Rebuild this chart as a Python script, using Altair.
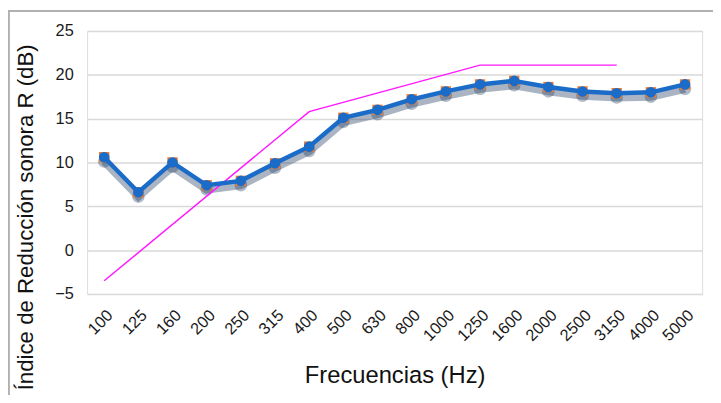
import altair as alt
import pandas as pd

freqs = ["100", "125", "160", "200", "250", "315", "400", "500", "630", "800",
         "1000", "1250", "1600", "2000", "2500", "3150", "4000", "5000"]
r_values = [10.6, 6.6, 10.0, 7.4, 7.9, 9.9, 11.8, 15.1, 16.0, 17.2,
            18.1, 18.9, 19.3, 18.6, 18.1, 17.9, 18.0, 18.9]
ref_freqs = ["100", "400", "1250", "3150"]
ref_values = [-3.5, 15.8, 21.1, 21.1]

df = pd.DataFrame({"f": freqs, "R": r_values})
dref = pd.DataFrame({"f": ref_freqs, "R": ref_values})

W, H = 622, 266
FONT = "Liberation Sans"

x = alt.X("f:O", sort=freqs, scale=alt.Scale(type="point", padding=0.5, domain=freqs),
          axis=alt.Axis(title="Frecuencias (Hz)", labelAngle=-45, labelFontSize=16.5,
                        labelColor="#1a1a1a", labelFont=FONT,
                        titleFont=FONT, titleFontSize=24, titleFontWeight="normal",
                        titleColor="#111111", titleY=71, titleBaseline="top",
                        ticks=False, domain=False, labelPadding=13, grid=False))
y = alt.Y("R:Q", scale=alt.Scale(domain=[-5, 25], nice=False, zero=False),
          axis=alt.Axis(title="Índice de Reducción sonora R (dB)", values=[-5, 0, 5, 10, 15, 20, 25],
                        labelFontSize=16.5, labelColor="#1a1a1a", labelFont=FONT,
                        titleFont=FONT, titleFontSize=22.5, titleFontWeight="normal",
                        titleColor="#111111", titleX=-50, titleY=188,
                        ticks=False, domain=False, labelPadding=14,
                        gridColor="#d9d9d9", gridWidth=1.5))

frame_left = alt.Chart(df).mark_rule(color="#b0b0b0", strokeWidth=1.2).encode(
    x=alt.value(-79.5), y=alt.value(-20.5), y2=alt.value(400))
frame_top = alt.Chart(df).mark_rule(color="#b0b0b0", strokeWidth=1.2).encode(
    x=alt.value(-79.5), x2=alt.value(700), y=alt.value(-20.5))

base = alt.Chart(df).transform_calculate(Rs="datum.R - 0.5")
shadow = base.mark_line(color="#1f3a5e", opacity=0.38, strokeWidth=8).encode(x=x, y=alt.Y("Rs:Q"))
shadow_pts = base.mark_circle(color="#1f3a5e", opacity=0.35, size=160).encode(x=x, y=alt.Y("Rs:Q"))
squares = base.mark_square(color="#ed7d31", opacity=1, size=110).encode(x=x, y=y)
line = base.mark_line(color="#1a6cc8", strokeWidth=4.5).encode(x=x, y=y)
circles = base.mark_circle(color="#1a6cc8", opacity=1, size=115).encode(x=x, y=y)
refline = alt.Chart(dref).mark_line(color="#ff19ff", strokeWidth=1.5).encode(x=x, y=y)

chart = alt.layer(shadow, shadow_pts, refline, squares, line, circles, frame_left, frame_top).properties(
    width=W, height=H, autosize=alt.AutoSizeParams(type="none"),
    padding={"left": 80, "top": 21, "right": 11, "bottom": 100}
).configure_view(stroke=None).configure(background="white")

chart.save("out.html", embed_options={"renderer": "svg", "actions": False})
